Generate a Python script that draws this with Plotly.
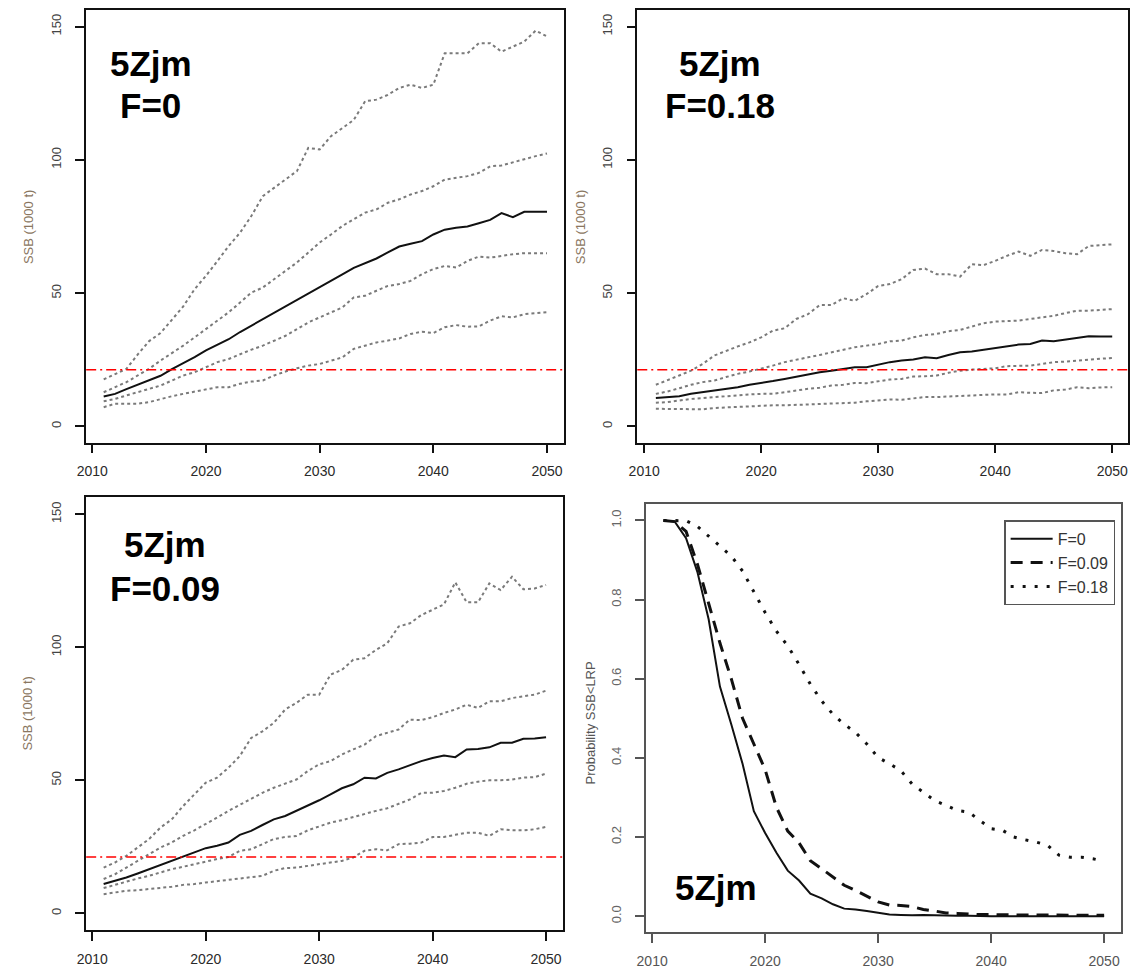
import plotly.graph_objects as go

years = list(range(2011, 2051))
LRP = 21.2

# ---- F = 0 (top-left) ----
f0_q95 = [17.6, 19.5, 21.6, 27.0, 32.0, 35.0, 40.0, 45.0, 51.5, 56.5, 62.0, 67.7, 72.7, 79.0, 86.4, 89.5, 92.6, 95.8, 104.5, 103.9,
          108.9, 112.0, 115.0, 122.0, 122.6, 124.4, 127.0, 128.2, 127.0, 128.2, 140.0, 140.0, 140.0, 143.8, 143.8, 140.6, 142.5, 144.4, 148.5, 146.3]
f0_q75 = [12.8, 14.7, 16.6, 19.1, 21.6, 24.7, 27.4, 30.3, 33.4, 36.5, 39.7, 42.8, 46.5, 50.2, 52.1, 55.2, 58.4, 61.5, 65.2, 69.0,
          72.0, 75.2, 77.7, 80.2, 81.4, 83.9, 85.2, 87.0, 88.3, 90.1, 92.6, 93.3, 93.9, 95.1, 97.6, 97.9, 99.1, 100.1, 101.4, 102.4]
f0_med = [11.2, 12.2, 14.0, 15.6, 17.2, 19.0, 21.5, 23.7, 26.0, 28.5, 30.6, 32.7, 35.4, 37.8, 40.0, 42.3, 44.8, 47.2, 49.5, 52.0,
          54.5, 57.0, 59.5, 61.2, 63.0, 65.3, 67.5, 68.5, 69.5, 72.0, 73.8, 74.5, 75.0, 76.2, 77.5, 80.0, 78.5, 80.5, 80.5, 80.5]
f0_q25 = [9.4, 10.3, 11.6, 12.8, 14.1, 15.3, 17.2, 19.1, 20.3, 22.2, 24.1, 25.3, 27.2, 28.8, 30.3, 32.2, 34.0, 36.5, 39.0, 40.9,
          42.8, 44.6, 48.4, 49.0, 50.9, 52.7, 53.4, 54.6, 57.1, 59.0, 60.2, 59.6, 62.1, 63.7, 63.3, 64.0, 64.6, 65.0, 65.0, 65.0]
f0_q05 = [7.2, 8.5, 8.5, 8.5, 9.1, 10.3, 11.3, 12.2, 13.1, 13.8, 14.7, 14.7, 16.0, 16.8, 17.2, 19.1, 20.6, 21.8, 22.8, 23.4,
          24.7, 25.9, 29.1, 30.3, 31.5, 32.2, 33.0, 34.7, 35.5, 35.0, 37.2, 38.0, 37.4, 37.5, 39.7, 41.3, 40.9, 42.1, 42.4, 42.8]

# ---- F = 0.18 (top-right) ----
f18_q95 = [15.6, 17.2, 19.1, 20.9, 23.4, 26.6, 28.4, 30.0, 31.5, 33.4, 35.9, 36.8, 40.3, 42.1, 45.5, 45.5, 48.1, 47.1, 49.6, 52.7,
           53.4, 55.2, 58.7, 59.2, 57.1, 57.1, 56.2, 60.8, 60.5, 62.1, 64.0, 65.6, 64.0, 66.2, 65.8, 65.0, 64.6, 67.7, 68.0, 68.3]
f18_q75 = [12.2, 13.1, 14.3, 15.6, 16.6, 17.2, 18.5, 19.7, 20.6, 21.6, 22.8, 24.1, 25.1, 25.9, 26.8, 27.8, 28.8, 29.7, 30.3, 30.9,
           31.9, 32.2, 33.4, 34.3, 34.7, 35.7, 36.2, 37.5, 38.7, 39.3, 39.4, 39.7, 40.3, 40.9, 41.5, 42.5, 43.4, 43.4, 43.6, 44.0]
f18_med = [10.6, 11.0, 11.3, 12.2, 12.8, 13.5, 14.1, 14.7, 15.6, 16.2, 17.0, 17.8, 18.7, 19.5, 20.3, 20.9, 21.6, 22.2, 22.2, 23.1,
           24.1, 24.7, 25.1, 25.9, 25.6, 26.8, 27.8, 28.1, 28.8, 29.4, 30.0, 30.7, 30.9, 32.2, 31.9, 32.5, 33.0, 33.8, 33.7, 33.7]
f18_q25 = [8.9, 9.1, 9.7, 10.3, 10.6, 11.0, 11.2, 11.6, 12.0, 12.2, 12.2, 12.8, 13.5, 14.1, 14.5, 15.3, 15.6, 16.3, 16.2, 16.8,
           17.6, 17.8, 18.7, 18.8, 19.1, 20.1, 20.9, 21.3, 21.6, 21.8, 22.6, 22.8, 22.8, 23.4, 24.1, 24.3, 24.7, 25.1, 25.3, 25.7]
f18_q05 = [6.6, 6.6, 6.6, 6.6, 6.4, 6.9, 7.1, 7.2, 7.6, 7.6, 7.9, 7.9, 8.1, 8.1, 8.5, 8.5, 8.7, 8.9, 9.4, 9.7,
           10.1, 10.0, 10.6, 11.0, 11.0, 11.2, 11.6, 11.8, 11.8, 12.0, 12.0, 12.8, 12.6, 12.5, 13.5, 13.8, 14.7, 14.3, 14.6, 14.7]

# ---- F = 0.09 (bottom-left) ----
f09_q95 = [17.2, 19.1, 21.6, 24.7, 27.9, 32.2, 35.3, 40.3, 44.7, 49.1, 51.0, 54.7, 59.1, 65.9, 68.4, 71.6, 76.6, 79.1, 82.2, 82.2,
           89.7, 91.5, 95.3, 95.9, 99.0, 101.5, 107.8, 109.0, 112.1, 114.0, 116.1, 124.4, 116.9, 116.9, 124.0, 121.5, 126.5, 121.8, 122.1, 123.4]
f09_q75 = [12.9, 14.7, 17.2, 19.7, 22.2, 24.7, 26.6, 29.1, 31.2, 33.5, 36.0, 38.5, 40.7, 43.2, 45.3, 47.2, 48.7, 50.3, 53.5, 56.0,
           57.2, 59.7, 61.6, 63.4, 66.6, 67.8, 69.1, 72.8, 72.6, 73.7, 75.3, 76.6, 78.4, 77.2, 79.7, 79.7, 80.9, 81.6, 82.2, 83.7]
f09_med = [11.0, 12.2, 13.5, 15.0, 16.6, 18.2, 19.7, 21.2, 22.9, 24.5, 25.4, 26.6, 29.5, 31.0, 33.2, 35.3, 36.6, 38.5, 40.3, 42.5,
           44.7, 47.0, 48.5, 51.0, 50.7, 52.8, 54.1, 55.7, 57.2, 58.4, 59.3, 58.7, 61.6, 61.8, 62.4, 64.1, 64.1, 65.6, 65.7, 66.2]
f09_q25 = [9.5, 10.7, 12.0, 13.1, 14.1, 15.4, 16.6, 17.5, 18.5, 19.5, 20.4, 21.2, 23.5, 24.1, 26.0, 27.9, 28.7, 29.1, 31.2, 32.8,
           34.1, 35.0, 36.2, 37.5, 38.5, 39.5, 41.2, 42.8, 45.3, 45.3, 46.0, 47.2, 48.7, 49.5, 50.0, 50.0, 50.3, 51.0, 51.2, 52.5]
f09_q05 = [7.2, 7.9, 8.5, 8.7, 9.1, 9.5, 10.0, 10.7, 11.0, 11.6, 12.0, 12.6, 13.1, 13.7, 14.1, 16.0, 17.0, 17.2, 17.9, 18.5,
           19.1, 19.7, 21.0, 23.5, 24.1, 23.7, 26.0, 26.2, 26.6, 28.7, 28.7, 29.5, 30.3, 30.3, 29.1, 31.6, 31.2, 31.2, 31.6, 32.5]

# ---- Probability SSB < LRP (bottom-right) ----
prob_f0 = [1.0, 0.997, 0.955, 0.87, 0.75, 0.58, 0.485, 0.385, 0.265, 0.21, 0.16, 0.115, 0.09, 0.057, 0.045, 0.03, 0.019, 0.017, 0.013, 0.008,
           0.004, 0.003, 0.002, 0.003, 0.002, 0.001, 0.001, 0.001, 0.0, 0.0, 0.0, 0.0, 0.0, 0.0, 0.0, 0.0, 0.0, 0.0, 0.0, 0.0]
prob_f09 = [1.0, 0.997, 0.972, 0.89, 0.79, 0.69, 0.6, 0.5, 0.435, 0.37, 0.275, 0.215, 0.185, 0.14, 0.12, 0.1, 0.078, 0.065, 0.05, 0.036,
            0.028, 0.027, 0.024, 0.017, 0.013, 0.008, 0.007, 0.005, 0.004, 0.004, 0.003, 0.003, 0.003, 0.003, 0.003, 0.002, 0.002, 0.002, 0.002, 0.002]
prob_f18 = [1.0, 1.0, 0.999, 0.985, 0.96, 0.935, 0.91, 0.872, 0.82, 0.767, 0.72, 0.683, 0.636, 0.586, 0.544, 0.51, 0.485, 0.464, 0.435, 0.401,
            0.385, 0.368, 0.334, 0.313, 0.292, 0.28, 0.267, 0.263, 0.242, 0.221, 0.217, 0.2, 0.193, 0.187, 0.179, 0.154, 0.149, 0.149, 0.145, 0.139]

x_ticks = [2010, 2020, 2030, 2040, 2050]
ssb_ticks = [0, 50, 100, 150]
prob_ticks = [0.0, 0.2, 0.4, 0.6, 0.8, 1.0]

W, H = 1130, 969
FONT = "Liberation Sans, Arial, sans-serif"
Q_COLOR = "#7a7a7a"

fig = go.Figure()

panels = [
    ("x", "y", [f0_q95, f0_q75, f0_med, f0_q25, f0_q05]),
    ("x2", "y2", [f18_q95, f18_q75, f18_med, f18_q25, f18_q05]),
    ("x3", "y3", [f09_q95, f09_q75, f09_med, f09_q25, f09_q05]),
]
for xa, ya, series in panels:
    for i, s in enumerate(series):
        if i == 2:
            line = dict(color="#111111", width=2)
        else:
            line = dict(color=Q_COLOR, width=2, dash="3px,3px")
        fig.add_trace(go.Scatter(x=years, y=s, mode="lines", line=line,
                                 xaxis=xa, yaxis=ya, showlegend=False, hoverinfo="skip"))
    fig.add_shape(type="line", xref=f"{xa} domain", yref=ya, x0=0, x1=1, y0=LRP, y1=LRP,
                  line=dict(color="#ff0000", width=1.5, dash="10px,4px,2px,4px"))

fig.add_trace(go.Scatter(x=years, y=prob_f0, mode="lines", name="F=0",
                         line=dict(color="#111111", width=2), xaxis="x4", yaxis="y4"))
fig.add_trace(go.Scatter(x=years, y=prob_f09, mode="lines", name="F=0.09",
                         line=dict(color="#111111", width=3, dash="12px,8px"), xaxis="x4", yaxis="y4"))
fig.add_trace(go.Scatter(x=years, y=prob_f18, mode="lines", name="F=0.18",
                         line=dict(color="#111111", width=3, dash="3px,9px"), xaxis="x4", yaxis="y4"))


def px_x(a, b):
    return [a / W, min(b / W, 1.0)]


def px_y(top, bottom):
    return [1 - bottom / H, 1 - top / H]


def xaxis(domain, rng, anchor, lc="#111111", tc="#2a2a2a"):
    return dict(domain=domain, range=rng, anchor=anchor, tickvals=x_ticks,
                showline=True, mirror=True, linecolor=lc, linewidth=1.5,
                ticks="outside", ticklen=9, tickwidth=1.5, tickcolor=lc,
                showgrid=False, zeroline=False, ticklabelstandoff=6,
                tickfont=dict(family=FONT, size=14, color=tc))


def yaxis(domain, rng, anchor, ticks, fmt=None, lc="#111111", tc="#444444"):
    d = dict(domain=domain, range=rng, anchor=anchor, tickvals=ticks,
             showline=True, mirror=True, linecolor=lc, linewidth=1.5,
             ticks="outside", ticklen=9, tickwidth=1.5, tickcolor=lc,
             showgrid=False, zeroline=False, tickangle=-90, ticklabelstandoff=9,
             tickfont=dict(family=FONT, size=13, color=tc))
    if fmt:
        d["tickformat"] = fmt
    return d


fig.update_layout(
    width=W, height=H, autosize=False,
    margin=dict(l=0, r=0, t=0, b=0),
    paper_bgcolor="white", plot_bgcolor="white",
    font=dict(family=FONT),
    xaxis=xaxis(px_x(77, 560), [2009.46, 2051.5], "y"),
    yaxis=yaxis(px_y(10, 444), [-6.1, 156.25], "x", ssb_ticks),
    xaxis2=xaxis(px_x(634, 1130), [2009.41, 2051.35], "y2"),
    yaxis2=yaxis(px_y(10, 444), [-6.1, 156.25], "x2", ssb_ticks),
    xaxis3=xaxis(px_x(77, 559), [2009.46, 2051.5], "y3"),
    yaxis3=yaxis(px_y(499, 933), [-6.3, 156.3], "x3", ssb_ticks),
    xaxis4=xaxis(px_x(643, 1123), [2009.47, 2051.5], "y4", lc="#555555", tc="#555555"),
    yaxis4=yaxis(px_y(506, 935), [-0.0403, 1.0403], "x4", prob_ticks, fmt=".1f", lc="#555555", tc="#666666"),
    legend=dict(x=1117 / W, y=1 - 522 / H, xanchor="right", yanchor="top",
                bordercolor="#555555", borderwidth=1.5, bgcolor="white",
                font=dict(family=FONT, size=16, color="#333333"),
                tracegroupgap=0, itemwidth=42),
    showlegend=True,
)

ann = []


def label(text, xpx, ypx, size=35):
    ann.append(dict(text=f"<b>{text}</b>", x=xpx / W, y=1 - ypx / H, xref="paper", yref="paper",
                    xanchor="center", yanchor="middle", showarrow=False,
                    font=dict(family=FONT, size=size, color="black")))


def ytitle(text, xpx, ypx, color):
    ann.append(dict(text=text, x=xpx / W, y=1 - ypx / H, xref="paper", yref="paper",
                    xanchor="center", yanchor="middle", showarrow=False, textangle=-90,
                    font=dict(family=FONT, size=13, color=color)))


label("5Zjm", 143, 64)
label("F=0", 142, 106)
label("5Zjm", 718, 64)
label("F=0.18", 718, 106)
label("5Zjm", 157, 546)
label("F=0.09", 157, 590)
label("5Zjm", 714, 890)

ytitle("SSB (1000 t)", 18, 228, "#8a7660")
ytitle("SSB (1000 t)", 576, 228, "#8a7660")
ytitle("SSB (1000 t)", 18, 716, "#8a7660")
ytitle("Probability SSB&lt;LRP", 587, 725, "#555555")

fig.update_layout(annotations=ann)

fig.write_html("out.html", config={"displayModeBar": False},
               post_script="document.body.style.margin='0px';")
